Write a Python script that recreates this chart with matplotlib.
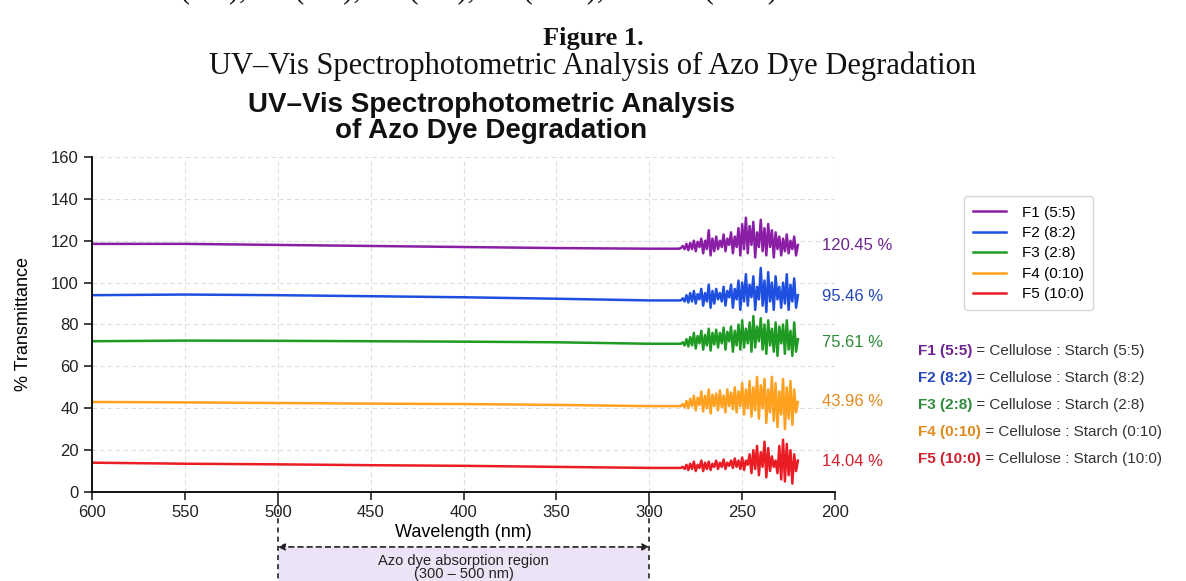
"""
UV-Vis 透过率图：五个配方在 600-200 nm 的透过率曲线。
"""
import matplotlib
matplotlib.use("Agg")
import matplotlib.pyplot as plt
from matplotlib.transforms import blended_transform_factory
from matplotlib.patches import Rectangle

# ─── 数据 ──────────────────────────────────────────────────
labels = ["F1 (5:5)", "F2 (8:2)", "F3 (2:8)", "F4 (0:10)", "F5 (10:0)"]
ratios = ["(5:5)", "(8:2)", "(2:8)", "(0:10)", "(10:0)"]
values_pct = ["120.45 %", "95.46 %", "75.61 %", "43.96 %", "14.04 %"]
label_y = [117.5, 93.5, 71.5, 43.0, 14.5]

# 平坦段（600 → 284 nm）
flat_wl = [600, 550, 500, 450, 400, 350, 300, 284]
f1_flat = [118.5, 118.5, 118.0, 117.5, 117.0, 116.5, 116.2, 116.2]
f2_flat = [94.0, 94.3, 94.0, 93.5, 93.0, 92.3, 91.5, 91.5]
f3_flat = [72.0, 72.3, 72.2, 72.0, 71.8, 71.5, 70.8, 70.8]
f4_flat = [43.0, 42.8, 42.5, 42.2, 42.0, 41.6, 41.0, 41.0]
f5_flat = [14.0, 13.5, 13.2, 12.8, 12.5, 12.0, 11.5, 11.5]

# 噪声段（283 → 220 nm，每 1 nm 一个点）
noise_wl = list(range(283, 219, -1))
f1_noise = [116.5, 117.5, 116.0, 118.5, 115.5, 119.0, 116.0, 120.0,
            115.0, 119.5, 117.0, 121.0, 114.0, 120.0, 116.0, 125.0,
            113.0, 121.0, 115.0, 122.0, 116.0, 120.0, 117.0, 123.0,
            115.0, 121.0, 118.0, 124.0, 114.0, 122.0, 117.0, 126.0,
            113.0, 128.0, 116.0, 131.0, 114.0, 127.0, 118.0, 129.0,
            112.0, 124.0, 117.0, 130.0, 115.0, 126.0, 113.0, 128.0,
            117.0, 125.0, 112.0, 124.0, 116.0, 122.0, 113.0, 121.0,
            115.0, 123.0, 114.0, 120.0, 116.0, 122.0, 113.0, 118.0]
f2_noise = [91.5, 92.5, 91.0, 94.0, 90.5, 95.0, 91.0, 96.0,
            90.0, 94.5, 92.0, 97.0, 89.0, 95.0, 91.0, 99.0,
            88.0, 96.0, 90.0, 97.0, 92.0, 95.0, 91.0, 98.0,
            89.0, 96.0, 93.0, 99.0, 88.0, 97.0, 92.0, 101.0,
            87.0, 100.0, 91.0, 104.0, 89.0, 99.0, 93.0, 103.0,
            87.0, 98.0, 92.0, 107.0, 89.0, 101.0, 86.0, 105.0,
            91.0, 100.0, 87.0, 103.0, 92.0, 98.0, 88.0, 100.0,
            90.0, 104.0, 87.0, 99.0, 91.0, 102.0, 88.0, 94.0]
f3_noise = [70.8, 71.5, 70.0, 73.0, 69.5, 74.0, 70.0, 76.0,
            68.5, 74.5, 71.0, 77.0, 68.0, 75.0, 70.0, 78.0,
            67.5, 76.0, 70.5, 77.5, 69.0, 76.0, 71.0, 78.5,
            68.0, 76.5, 72.0, 79.0, 67.0, 77.0, 70.0, 80.0,
            68.0, 82.0, 69.0, 78.0, 71.0, 81.0, 67.0, 84.0,
            69.0, 79.0, 72.0, 83.0, 68.0, 80.0, 66.0, 82.0,
            70.0, 78.0, 67.0, 81.0, 65.0, 79.0, 71.0, 80.0,
            66.0, 82.0, 68.0, 77.0, 65.0, 81.0, 67.0, 73.0]
f4_noise = [41.0, 42.0, 40.5, 43.5, 40.0, 44.5, 41.0, 46.0,
            39.0, 45.0, 41.5, 48.0, 38.5, 46.0, 40.0, 49.0,
            37.5, 46.5, 41.0, 47.0, 39.0, 48.5, 40.5, 46.0,
            38.0, 49.0, 41.0, 47.5, 39.5, 50.0, 38.0, 48.0,
            41.0, 52.0, 37.0, 49.0, 40.0, 53.0, 36.0, 50.0,
            39.0, 55.0, 35.0, 51.0, 40.0, 54.0, 33.0, 49.0,
            38.0, 55.0, 34.0, 52.0, 31.0, 48.0, 37.0, 54.0,
            30.0, 50.0, 35.0, 53.0, 32.0, 49.0, 38.0, 43.0]
f5_noise = [11.5, 12.0, 11.0, 13.0, 10.5, 13.5, 11.0, 14.5,
            10.0, 13.0, 11.5, 15.0, 10.0, 14.0, 11.0, 14.5,
            10.5, 13.5, 12.0, 15.0, 11.0, 14.0, 12.0, 15.5,
            11.0, 14.0, 12.5, 15.0, 11.5, 16.0, 12.0, 15.0,
            11.0, 16.5, 10.5, 15.0, 13.0, 18.0, 9.0, 20.0,
            11.0, 22.0, 8.0, 19.0, 12.0, 24.0, 7.0, 21.0,
            10.0, 17.0, 12.0, 15.0, 9.0, 22.0, 6.0, 25.0,
            5.0, 23.0, 8.0, 20.0, 4.0, 18.0, 10.0, 15.0]

flats = [f1_flat, f2_flat, f3_flat, f4_flat, f5_flat]
noises = [f1_noise, f2_noise, f3_noise, f4_noise, f5_noise]

line_colors = ["#8a1fa6", "#1f4fe0", "#1f9a22", "#ffa01e", "#ea1c24"]
text_colors = ["#6f2391", "#2448b5", "#2e8b3a", "#e08a1e", "#d0202e"]

SANS = ["Liberation Sans", "DejaVu Sans"]
SERIF = ["Liberation Serif", "DejaVu Serif"]

plt.rcParams.update({
    "font.family": SANS,
    "axes.unicode_minus": False,
})

fig = plt.figure(figsize=(11.86, 5.81), dpi=100)
ax = fig.add_axes([0.0776, 0.1532, 0.6265, 0.5766])

# ── 曲线 ──
for i in range(5):
    wl = flat_wl + noise_wl
    y = flats[i] + noises[i]
    ax.plot(wl, y, color=line_colors[i], lw=1.8, label=labels[i])
    ax.text(207, label_y[i], values_pct[i], color=text_colors[i],
            fontsize=12, ha="left", va="center")

ax.set_xlim(600, 200)
ax.set_ylim(0, 160)
ax.set_xticks(range(600, 199, -50))
ax.set_yticks(range(0, 161, 20))
ax.tick_params(labelsize=12, length=6, width=1.2, colors="#222222")
ax.grid(True, linestyle=(0, (4, 3)), color="#dddddd", lw=0.8)
for s in ["top", "right"]:
    ax.spines[s].set_visible(False)
for s in ["left", "bottom"]:
    ax.spines[s].set_linewidth(1.3)
ax.set_ylabel("% Transmittance", fontsize=13, labelpad=14)
ax.set_xlabel("Wavelength (nm)", fontsize=13, labelpad=3)

fig.text(0.414, 0.797,
         "UV\u2013Vis Spectrophotometric Analysis\nof Azo Dye Degradation",
         fontsize=20, fontweight="bold", linespacing=1.02,
         ha="center", va="center", color="#111111")

# ── 吸收区标注 ──
trans = blended_transform_factory(ax.transData, ax.transAxes)
ax.add_patch(Rectangle((500, -0.30), -200, 0.136, transform=trans,
                       facecolor="#ece4f6", edgecolor="none", clip_on=False))
for xv in (500, 300):
    ax.plot([xv, xv], [-0.025, -0.30], transform=trans, color="#222222",
            lw=1.2, linestyle=(0, (3, 2.5)), clip_on=False)
ax.annotate("", xy=(300, -0.164), xytext=(500, -0.164),
            xycoords=trans, textcoords=trans,
            arrowprops=dict(arrowstyle="<|-|>", color="#222222", lw=1.2,
                            linestyle=(0, (3, 2.5)), mutation_scale=10,
                            shrinkA=0, shrinkB=0))
ax.text(400, -0.205, "Azo dye absorption region", transform=trans,
        ha="center", va="center", fontsize=10.5, color="#222222")
ax.text(400, -0.245, "(300 \u2013 500 nm)", transform=trans,
        ha="center", va="center", fontsize=10.5, color="#222222")

# ── 图例 ──
leg = fig.legend(loc="upper left", bbox_to_anchor=(0.806, 0.675),
                 fontsize=11, frameon=True, handlelength=2.2,
                 labelspacing=0.42, borderpad=0.6, handletextpad=1.0)
leg.get_frame().set_edgecolor("#cccccc")
leg.get_frame().set_linewidth(1.0)

# ── 配比说明 ──
row_y = [0.396, 0.350, 0.303, 0.257, 0.210]
for i in range(5):
    t = fig.text(0.774, row_y[i], labels[i], color=text_colors[i],
                 fontsize=11, fontweight="bold", ha="left", va="center")
    fig.canvas.draw()
    ax.annotate(f" = Cellulose : Starch {ratios[i]}", xy=(1, 0.5),
                xycoords=t, va="center", ha="left", fontsize=11,
                color="#333333", annotation_clip=False)

# ── 页眉 ──
fig.text(0.662, 1.017, "F1 (5:5), F2 (8:2), F3 (2:8), F4 (0:10), and F5 (10:0).",
         family=SERIF, fontsize=22, ha="right", va="center", color="#111111")
fig.text(0.5, 0.934, "Figure 1.", family=SERIF, fontsize=19,
         fontweight="bold", ha="center", va="center", color="#111111")
fig.text(0.5, 0.886, "UV\u2013Vis Spectrophotometric Analysis of Azo Dye Degradation",
         family=SERIF, fontsize=22, ha="center", va="center", color="#111111")

fig.savefig("out.png", dpi=100)
